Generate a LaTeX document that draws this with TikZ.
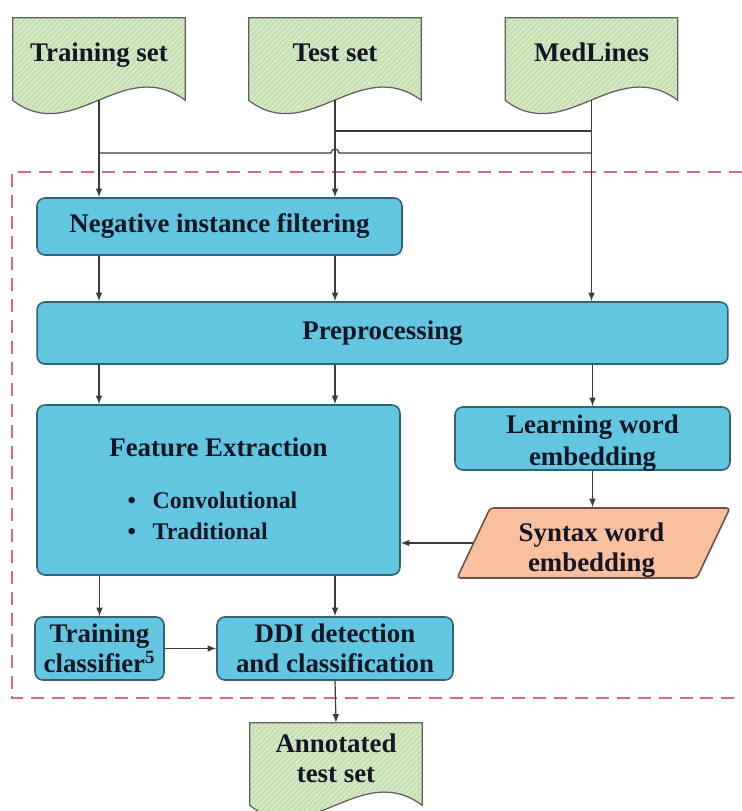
\documentclass[tikz,border=0pt]{standalone}
\usepackage{fontspec}
\setmainfont{Liberation Serif}
\usetikzlibrary{shapes.geometric,patterns,backgrounds,calc}
\definecolor{boxblue}{RGB}{98,198,224}
\definecolor{boxline}{RGB}{52,98,116}
\definecolor{docgreen}{RGB}{198,224,178}
\definecolor{docline}{RGB}{90,100,90}
\definecolor{synorange}{RGB}{248,192,158}
\definecolor{synline}{RGB}{110,80,70}
\definecolor{framered}{RGB}{214,108,128}
\definecolor{wirecol}{RGB}{60,60,60}
\definecolor{ink}{RGB}{20,22,35}

\tikzset{
  box/.style={draw=boxline, line width=0.9pt, fill=boxblue, rounded corners=4.5pt, align=center, inner sep=2pt},
  docnode/.style={minimum width=3.44cm, minimum height=1.4cm, align=center, inner sep=0pt},
  oneline/.style={text height=10pt, text depth=0pt},
  wire/.style={draw=wirecol, line width=0.7pt},
}

%% green document outline with wavy bottom, behind node #1
\newcommand{\docwave}[1]{%
  \path[preaction={fill=docgreen}, pattern=north east lines, pattern color=white!55!docgreen,
        draw=docline, line width=0.7pt]
    ([yshift=-0.24cm]#1.south west) -- (#1.north west) -- (#1.north east) -- ([yshift=-0.24cm]#1.south east)
    .. controls +(-62,-46) and +(60,46) .. ([yshift=-0.24cm]#1.south west) -- cycle;}

\begin{document}
\begin{tikzpicture}[x=0.02cm, y=-0.02cm, >=latex,
    every node/.style={font=\bfseries\fontsize{15.3}{17}\selectfont, text=ink}]
  \useasboundingbox (0,0) rectangle (742,811);

  %% data
  \node (train) at (99,53) [docnode, oneline] {Training set};
  \node (test) at (335,53) [docnode, oneline] {Test set};
  \node (med) at (591.5,53) [docnode, oneline] {MedLines};
  \node (ann) at (336,758) [docnode] {Annotated\\test set};

  %% processing steps
  \node (neg) at (219.5,226.5) [box, minimum width=7.3cm, minimum height=1.14cm] {Negative instance filtering};
  \node (pre) at (382.5,333) [box, minimum width=13.82cm, minimum height=1.24cm] {Preprocessing};
  \node (fe) at (218.5,490) [box, minimum width=7.26cm, minimum height=3.4cm]
    {\rule{0pt}{15pt}Feature Extraction\\[15.4pt]
     \fontsize{13.6}{18}\selectfont
     \begin{tabular}{@{}l@{}}\textbullet\hspace{0.7em}Convolutional\\ \textbullet\hspace{0.7em}Traditional\end{tabular}\kern0.24cm};
  \node (lwe) at (592.5,438.5) [box, minimum width=5.5cm, minimum height=1.26cm] {};
  \node (lwetext) at ($(lwe)+(0,4.5)$) [align=center, font=\bfseries\fontsize{15.3}{18.5}\selectfont] {Learning word\\embedding};
  \node (swe) at (593.5,543) [trapezium, trapezium left angle=63.4, trapezium right angle=116.6,
    trapezium stretches body, draw=synline, line width=0.9pt, fill=synorange, rounded corners=2pt,
    align=center, minimum width=5.46cm, minimum height=1.4cm] {\phantom{Syntax word}\\\phantom{embedding}};
  \node (swetext) at ($(swe)+(-2,7)$) [align=center] {Syntax word\\embedding};
  \node (tc) at (99.5,648.5) [box, minimum width=2.58cm, minimum height=1.26cm] {Training\\classifier\textsuperscript{5}};
  \node (ddi) at (335,648.5) [box, minimum width=4.72cm, minimum height=1.26cm] {DDI detection\\and classification};

  \begin{scope}[on background layer]
    \docwave{train} \docwave{test} \docwave{med} \docwave{ann}
  \end{scope}

  %% dashed frame (open on the right)
  \draw[framered, line width=1.1pt, dash pattern=on 7.4pt off 4.5pt] (742,172) -- (12,172) -- (12,698) -- (742,698);

  %% inputs
  \coordinate (hA) at (0,131);
  \coordinate (hB) at (0,153);
  \draw[wire,->] ([yshift=-0.24cm]train.south) -- (train.south |- neg.north);
  \draw[wire,->] ([yshift=-0.24cm]test.south) -- (test.south |- neg.north);
  \draw[wire,->] ([yshift=-0.24cm]med.south) -- (med.south |- pre.north);
  \draw[wire] (test.south |- hA) -- (med.south |- hA);
  \draw[wire] (train.south |- hB) -- ($(test.south |- hB)+(-4,0)$) arc (180:0:0.08cm) -- (med.south |- hB);

  \draw[wire,->] (train.south |- neg.south) -- (train.south |- pre.north);
  \draw[wire,->] (test.south |- neg.south) -- (test.south |- pre.north);
  \draw[wire,->] (train.south |- pre.south) -- (train.south |- fe.north);
  \draw[wire,->] (test.south |- pre.south) -- (test.south |- fe.north);
  \draw[wire,->] (lwe.north |- pre.south) -- (lwe.north);
  \draw[wire,->] (lwe.south) -- (lwe.south |- swe.north);
  \draw[wire,->] (swe.left side) -- (swe.left side -| fe.east);
  \draw[wire,->] (tc.north |- fe.south) -- (tc.north);
  \draw[wire,->] (ddi.north |- fe.south) -- (ddi.north);
  \draw[wire,->] (tc.east) -- (ddi.west);
  \draw[wire,->] (ddi.south) -- (ann.north);
\end{tikzpicture}
\end{document}
